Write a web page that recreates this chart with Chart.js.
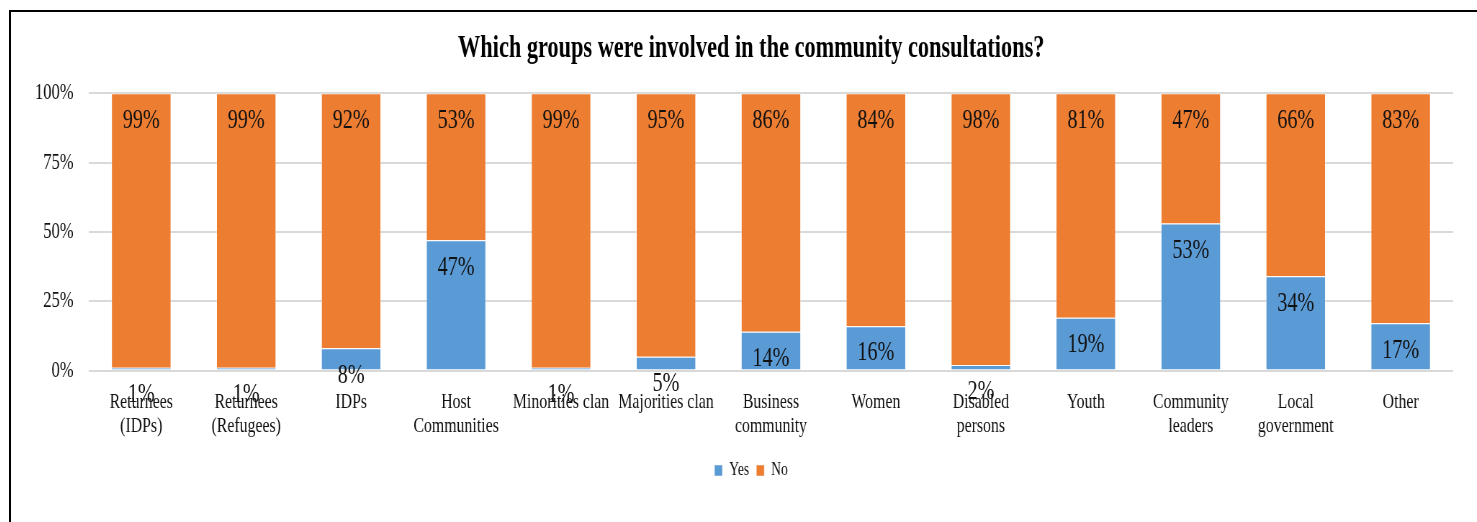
<!DOCTYPE html>
<html>
<head>
<meta charset="utf-8">
<script src="https://cdn.jsdelivr.net/npm/chart.js@4.4.1/dist/chart.umd.min.js"></script>
<style>
  html, body { margin: 0; padding: 0; background: #fff; overflow: hidden; }
  .frame {
    position: absolute; left: 9px; top: 10px;
    width: 1482px; height: 600px;
    border-left: 2px solid #000; border-top: 2px solid #000;
  }
  /* chart is laid out wide and squeezed horizontally for the narrow type look */
  .squeeze {
    position: absolute; left: 0; top: 0;
    width: 2056px; height: 510px;
    transform: scaleX(0.72); transform-origin: 0 0;
  }
</style>
</head>
<body>
<div class="frame">
  <div class="squeeze"><canvas id="consultChart"></canvas></div>
</div>
<script>
const groups = [
  ['Returnees', '(IDPs)'],
  ['Returnees', '(Refugees)'],
  'IDPs',
  ['Host', 'Communities'],
  'Minorities clan',
  'Majorities clan',
  ['Business', 'community'],
  'Women',
  ['Disabled', 'persons'],
  'Youth',
  ['Community', 'leaders'],
  ['Local', 'government'],
  'Other'
];
const yesPct = [1, 1, 8, 47, 1, 5, 14, 16, 2, 19, 53, 34, 17];
const noPct = [99, 99, 92, 53, 99, 95, 86, 84, 98, 81, 47, 66, 83];
const yTicks = [0, 25, 50, 75, 100];

const serif = 'Liberation Serif';

// percentage labels sit just inside the top of each segment
const segmentLabels = {
  id: 'segmentLabels',
  afterDatasetsDraw(chart) {
    const ctx = chart.ctx;
    ctx.save();
    ctx.font = '28px "' + serif + '"';
    ctx.fillStyle = '#111';
    ctx.textAlign = 'center';
    ctx.textBaseline = 'middle';
    chart.data.datasets.forEach((ds, i) => {
      chart.getDatasetMeta(i).data.forEach((bar, j) => {
        ctx.fillText(ds.data[j] + '%', bar.x, bar.y + 27);
      });
    });
    ctx.restore();
  }
};

new Chart(document.getElementById('consultChart'), {
  type: 'bar',
  data: {
    labels: groups,
    datasets: [
      { label: 'Yes', data: yesPct, backgroundColor: '#5B9BD5',
        borderColor: 'rgba(255,255,255,0.45)', borderWidth: 1 },
      { label: 'No', data: noPct, backgroundColor: '#ED7D31',
        borderColor: 'rgba(255,255,255,0.45)', borderWidth: 1 }
    ]
  },
  options: {
    responsive: true,
    maintainAspectRatio: false,
    animation: false,
    datasets: { bar: { categoryPercentage: 1, barPercentage: 0.572 } },
    layout: { padding: { left: 0, right: 0, top: 0, bottom: 32 } },
    plugins: {
      title: {
        display: true,
        text: 'Which groups were involved in the community consultations?',
        font: { family: serif, size: 31, weight: 'bold' },
        color: '#000',
        padding: { top: 18, bottom: 26 }
      },
      legend: {
        position: 'bottom',
        labels: {
          boxWidth: 11, boxHeight: 11,
          font: { family: serif, size: 19 },
          color: '#111'
        }
      },
      tooltip: { enabled: false }
    },
    scales: {
      x: {
        stacked: true,
        grid: { display: false, drawTicks: false },
        border: { display: false },
        ticks: {
          autoSkip: false, maxRotation: 0,
          padding: 19.5,
          font: { family: serif, size: 22, lineHeight: 1.1 },
          color: '#111'
        },
        afterFit(scale) { scale.height = 80.5; }
      },
      y: {
        stacked: true,
        min: 0, max: 100,
        afterBuildTicks(scale) { scale.ticks = yTicks.map(v => ({ value: v })); },
        grid: { color: '#d9d9d9', lineWidth: 2, drawTicks: false },
        border: { display: false },
        ticks: {
          padding: 21,
          font: { family: serif, size: 23 },
          color: '#111',
          callback: v => v + '%'
        },
        afterFit(scale) { scale.width = 108; }
      },
      // empty right-hand axis: reserves the margin right of the plot
      yRight: {
        position: 'right',
        grid: { display: false, drawTicks: false },
        border: { display: false },
        ticks: { display: false },
        afterFit(scale) { scale.width = 53; }
      }
    }
  },
  plugins: [segmentLabels]
});
</script>
</body>
</html>
